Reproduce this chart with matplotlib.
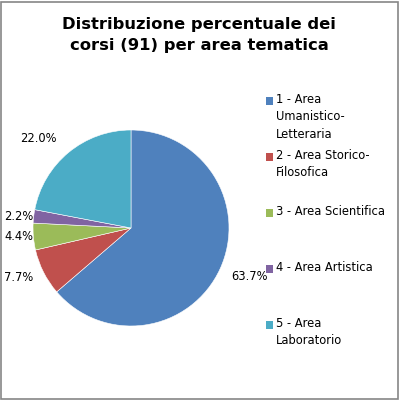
import matplotlib
matplotlib.use("Agg")
import matplotlib.pyplot as plt
import numpy as np
from matplotlib.patches import Rectangle

# dati: corsi per area tematica (totale 91)
categorie = ["1 - Area\nUmanistico-\nLetteraria", "2 - Area Storico-\nFilosofica",
             "3 - Area Scientifica", "4 - Area Artistica", "5 - Area\nLaboratorio"]
percentuali = [63.7, 7.7, 4.4, 2.2, 22.0]
etichette = ["63.7%", "7.7%", "4.4%", "2.2%", "22.0%"]
colori = ["#4F81BD", "#C0504D", "#9BBB59", "#8064A2", "#4BACC6"]
# distanza delle etichette dal centro (in raggi)
dist_etichette = [1.125, 1.12, 1.0, 1.0, 1.185]

plt.rcParams['font.family'] = ['DejaVu Sans']

fig = plt.figure(figsize=(4, 4), dpi=100)
fig.patch.set_facecolor("white")

# bordo grigio del grafico
fig.patches.append(Rectangle((0.002, 0.002), 0.994, 0.994, transform=fig.transFigure,
                             fill=False, edgecolor="#868686", linewidth=1.2))

fig.text(0.4975, 0.913, "Distribuzione percentuale dei\ncorsi (91) per area tematica",
         ha="center", va="center", fontsize=11.8, fontweight="bold",
         linespacing=1.5, color="black")

cx, cy, r = 131 / 400, 1 - 228 / 400, 98 / 400
ax = fig.add_axes([cx - r, cy - r, 2 * r, 2 * r])
wedges, texts = ax.pie(percentuali, labels=etichette, colors=colori, startangle=90,
                       counterclock=False,
                       wedgeprops=dict(edgecolor="white", linewidth=0.4),
                       textprops=dict(fontsize=8.3, color="black"))
for w, t, d in zip(wedges, texts, dist_etichette):
    ang = np.deg2rad((w.theta1 + w.theta2) / 2)
    t.set_position((d * np.cos(ang), d * np.sin(ang)))
    t.set_ha("left" if np.cos(ang) > 0 else "right")
    t.set_va("center")
texts[0].set_y(texts[0].get_position()[1] - 0.03)
ax.set_xlim(-1, 1)
ax.set_ylim(-1, 1)
ax.set_aspect("equal")

# legenda
for i, (nome, col) in enumerate(zip(categorie, colori)):
    y = 1 - (101 + i * 56) / 400
    fig.patches.append(Rectangle((266 / 400, y - 0.009), 0.018, 0.018,
                                 transform=fig.transFigure, facecolor=col, edgecolor="none"))
    fig.text(276 / 400, y + 0.0195, nome, ha="left", va="top", fontsize=8.3,
             linespacing=1.42, color="black")

fig.savefig("out.png", dpi=100, facecolor="white")
